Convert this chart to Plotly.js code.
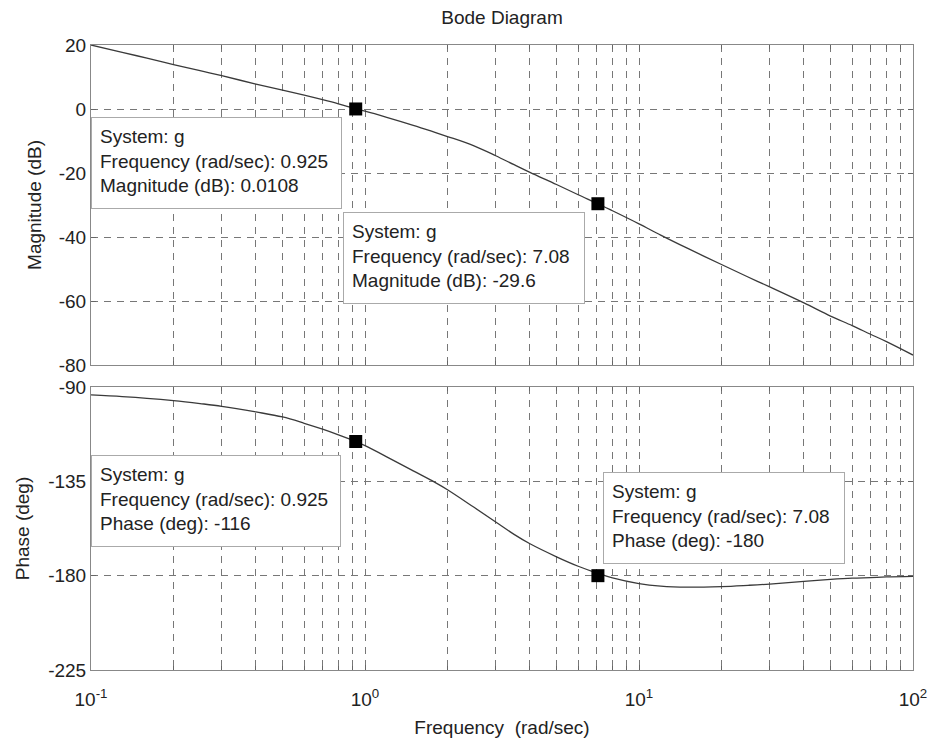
<!DOCTYPE html>
<html>
<head>
<meta charset="utf-8">
<script src="https://cdn.plot.ly/plotly-3.0.1.min.js"></script>
<style>html,body{margin:0;padding:0;background:#fff;}#chart{width:931px;height:743px;}</style>
</head>
<body>
<div id="chart"></div>
<script>
// ---- data ----
var freq = [0.1, 0.13, 0.16, 0.2, 0.25, 0.3, 0.4, 0.5, 0.6, 0.7, 0.8, 0.925, 1.0, 1.2, 1.5, 1.8, 2.0, 2.5, 3.0, 3.5, 4.0, 5.0, 6.0, 7.08, 8.0, 10, 12, 15, 20, 25, 30, 40, 50, 60, 70, 80, 100];
var magDb = [20.0, 17.7, 15.9, 13.9, 12.0, 10.4, 7.8, 5.9, 4.3, 2.9, 1.6, 0.01, -0.7, -2.6, -5.1, -7.3, -8.6, -11.5, -14.6, -17.4, -19.8, -23.6, -26.8, -29.6, -31.8, -35.9, -39.4, -43.5, -48.6, -52.5, -55.6, -60.6, -64.7, -67.7, -70.4, -72.7, -76.9];
var phaseDeg = [-93.8, -94.6, -95.4, -96.5, -97.9, -99.2, -101.9, -104.3, -107.3, -110.1, -112.8, -116, -118.0, -123.3, -130.0, -135.5, -139.0, -147.4, -154.4, -160.3, -164.8, -171.0, -175.5, -178.9, -181.1, -183.8, -185.0, -185.5, -185.2, -184.6, -184.0, -182.7, -181.8, -181.2, -180.9, -180.6, -180.3];

var tipFreq = [0.925, 7.08];
var tipFreqText = ['0.925', '7.08'];
var tipMag = [0.0108, -29.6];
var tipMagText = ['0.0108', '-29.6'];
var tipPhase = [-116, -180];
var tipPhaseText = ['-116', '-180'];

var magTicks = [-80, -60, -40, -20, 0, 20];
var magTickText = ['-80', '-60', '-40', '-20', '0', '20'];
var phaseTicks = [-225, -180, -135, -90];
var phaseTickText = ['-225', '-180', '-135', '-90'];
var decades = [0.1, 1, 10, 100];
var decadeText = ['10<sup>-1</sup>', '10<sup>0</sup>', '10<sup>1</sup>', '10<sup>2</sup>'];
var minorMultipliers = [2, 3, 4, 5, 6, 7, 8, 9];

// ---- minor x tick positions (2..9 within each decade) ----
var xMinorVals = [];
for (var d = 0; d < decades.length - 1; d++) {
  for (var m = 0; m < minorMultipliers.length; m++) xMinorVals.push(decades[d] * minorMultipliers[m]);
}

var FONT = 'Liberation Sans, Arial, sans-serif';
var lineCol = '#3a3a3a';
var gridCol = '#777';
var gridDash = '7px,6px';

var traces = [
  {x: freq, y: magDb, xaxis: 'x', yaxis: 'y', mode: 'lines', line: {color: lineCol, width: 1.3, shape: 'spline', smoothing: 1}, hoverinfo: 'skip'},
  {x: freq, y: phaseDeg, xaxis: 'x2', yaxis: 'y2', mode: 'lines', line: {color: lineCol, width: 1.3, shape: 'spline', smoothing: 1}, hoverinfo: 'skip'},
  {x: tipFreq, y: tipMag, xaxis: 'x', yaxis: 'y', mode: 'markers', marker: {symbol: 'square', size: 13, color: '#000'}, hoverinfo: 'skip'},
  {x: tipFreq, y: tipPhase, xaxis: 'x2', yaxis: 'y2', mode: 'markers', marker: {symbol: 'square', size: 13, color: '#000'}, hoverinfo: 'skip'}
];

function xAxis(anchor, labels) {
  return {
    type: 'log', range: [-1, 2], anchor: anchor, domain: [0, 1],
    tickmode: 'array', tickvals: decades, ticktext: decadeText,
    showticklabels: labels, ticks: 'inside', ticklen: 5, tickcolor: '#666',
    showline: true, linecolor: '#888', linewidth: 1, mirror: 'ticks',
    showgrid: true, gridcolor: gridCol, griddash: gridDash, gridwidth: 1,
    minor: {tickmode: 'array', tickvals: xMinorVals, ticks: 'inside', ticklen: 4, tickcolor: '#666',
            showgrid: true, gridcolor: gridCol, griddash: gridDash, gridwidth: 1},
    zeroline: false, tickfont: {size: 19, color: '#222', family: FONT},
    ticklabelstandoff: 12
  };
}
function yAxis(anchor, dom, rng, vals, txt, title, standoff) {
  return {
    anchor: anchor, domain: dom, range: rng,
    tickmode: 'array', tickvals: vals, ticktext: txt,
    ticks: 'inside', ticklen: 5, tickcolor: '#666',
    showline: true, linecolor: '#888', linewidth: 1, mirror: 'ticks',
    showgrid: true, gridcolor: gridCol, griddash: gridDash, gridwidth: 1,
    zeroline: false, tickfont: {size: 19, color: '#222', family: FONT},
    automargin: true,
    title: {text: title, standoff: standoff, font: {size: 19, color: '#222', family: FONT}}
  };
}

function tip(x, y, lines, w) {
  return {
    xref: 'paper', yref: 'paper', x: x, y: y, xanchor: 'left', yanchor: 'top',
    showarrow: false, align: 'left', valign: 'top',
    text: lines.join('<br>'), width: w, height: 74,
    bgcolor: '#fff', bordercolor: '#aaa', borderwidth: 1, borderpad: 8,
    font: {size: 19, color: '#222', family: FONT}
  };
}

var layout = {
  width: 931, height: 743,
  margin: {l: 91, r: 18, t: 45, b: 73},
  paper_bgcolor: '#fff', plot_bgcolor: '#fff',
  showlegend: false,
  title: {text: 'Bode Diagram', x: 0.5, xref: 'paper', y: 0.976, yanchor: 'middle',
          font: {size: 19, color: '#222', family: FONT}},
  xaxis: xAxis('y', false),
  xaxis2: Object.assign(xAxis('y2', true), {title: {text: 'Frequency&nbsp;&nbsp;(rad/sec)', standoff: 11, font: {size: 19, color: '#222', family: FONT}}}),
  yaxis: yAxis('x', [0.488, 1], [-80, 20], magTicks, magTickText, 'Magnitude (dB)', 12),
  yaxis2: yAxis('x2', [0, 0.4528], [-225, -90], phaseTicks, phaseTickText, 'Phase (deg)', 13),
  annotations: [
    tip(0, 0.8848, ['System: g', 'Frequency (rad/sec): ' + tipFreqText[0], 'Magnitude (dB): ' + tipMagText[0]], 233),
    tip(0.3066, 0.7328, ['System: g', 'Frequency (rad/sec): ' + tipFreqText[1], 'Magnitude (dB): ' + tipMagText[1]], 224),
    tip(0, 0.344, ['System: g', 'Frequency (rad/sec): ' + tipFreqText[0], 'Phase (deg): ' + tipPhaseText[0]], 232),
    tip(0.6229, 0.3168, ['System: g', 'Frequency (rad/sec): ' + tipFreqText[1], 'Phase (deg): ' + tipPhaseText[1]], 224)
  ]
};

Plotly.newPlot('chart', traces, layout, {staticPlot: true, displayModeBar: false});
</script>
</body>
</html>
